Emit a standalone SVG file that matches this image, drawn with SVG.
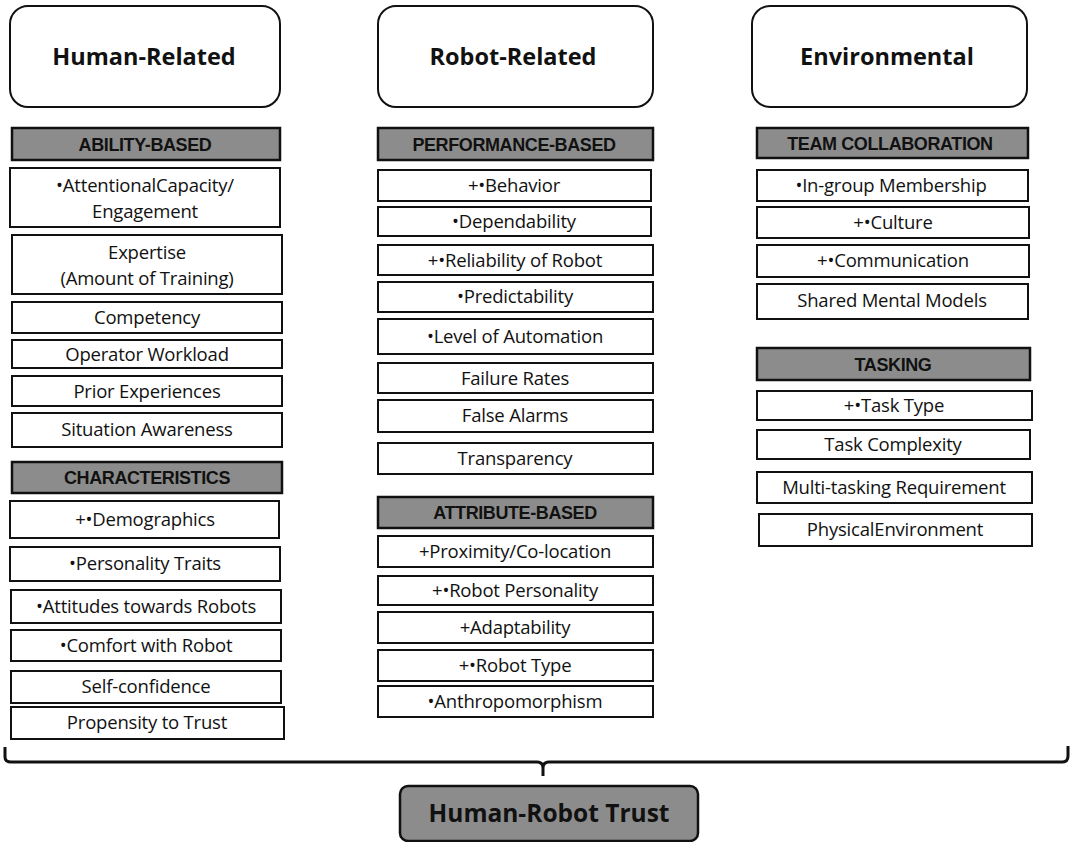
<svg xmlns="http://www.w3.org/2000/svg" width="1071" height="842" viewBox="0 0 1071 842">
<style>
.hdr{fill:#fff;stroke:#111;stroke-width:2}
.bar{fill:#8c8c8c;stroke:#111;stroke-width:2.5}
.box{fill:#fff;stroke:#111;stroke-width:2}
.ht{font-family:"Open Sans","Noto Sans",sans-serif;font-weight:bold;font-size:23.5px;fill:#111;text-anchor:middle}
.bt{font-family:"Liberation Sans",Arial,sans-serif;font-weight:bold;font-size:18px;fill:#111;text-anchor:middle;letter-spacing:-0.4px}
.it{font-family:"Open Sans","Noto Sans",sans-serif;font-size:18.5px;fill:#111;text-anchor:middle;letter-spacing:-0.2px}
.trust{fill:#8c8c8c;stroke:#111;stroke-width:2.5}
.tt{font-family:"Open Sans","Noto Sans",sans-serif;font-weight:bold;font-size:24.5px;fill:#111;text-anchor:middle}
</style>
<rect width="1071" height="842" fill="#fff"/>

<g id="human-related"><rect class="hdr" x="10" y="6" width="270" height="101" rx="18"/><text class="ht" x="144" y="65">Human-Related</text></g>
<g id="robot-related"><rect class="hdr" x="378" y="6" width="275" height="101" rx="18"/><text class="ht" x="513" y="65">Robot-Related</text></g>
<g id="environmental"><rect class="hdr" x="752" y="6" width="275" height="101" rx="18"/><text class="ht" x="887" y="65">Environmental</text></g>

<!-- Column 1 -->
<g id="ability-based"><rect class="bar" x="12" y="128" width="268" height="32"/><text class="bt" x="145" y="151">ABILITY-BASED</text></g>
<g id="attentional"><rect class="box" x="10" y="168" width="270" height="59"/><text class="it" x="145" y="192">•AttentionalCapacity/</text><text class="it" x="145" y="218">Engagement</text></g>
<g id="expertise"><rect class="box" x="12" y="235" width="270" height="59"/><text class="it" x="147" y="259">Expertise</text><text class="it" x="147" y="285">(Amount of Training)</text></g>
<g id="competency"><rect class="box" x="12" y="302" width="270" height="31"/><text class="it" x="147" y="324">Competency</text></g>
<g id="workload"><rect class="box" x="12" y="340" width="270" height="28"/><text class="it" x="147" y="361">Operator Workload</text></g>
<g id="prior"><rect class="box" x="12" y="376" width="270" height="30"/><text class="it" x="147" y="398">Prior Experiences</text></g>
<g id="situation"><rect class="box" x="12" y="413" width="270" height="34"/><text class="it" x="147" y="436">Situation Awareness</text></g>
<g id="characteristics"><rect class="bar" x="12" y="462" width="270" height="31"/><text class="bt" x="147" y="484">CHARACTERISTICS</text></g>
<g id="demographics"><rect class="box" x="10" y="501" width="269" height="37"/><text class="it" x="145" y="526">+•Demographics</text></g>
<g id="personality"><rect class="box" x="10" y="547" width="270" height="34"/><text class="it" x="145" y="570">•Personality Traits</text></g>
<g id="attitudes"><rect class="box" x="11" y="590" width="270" height="33"/><text class="it" x="146" y="613">•Attitudes towards Robots</text></g>
<g id="comfort"><rect class="box" x="11" y="630" width="270" height="31"/><text class="it" x="146" y="652">•Comfort with Robot</text></g>
<g id="selfconf"><rect class="box" x="11" y="671" width="270" height="32"/><text class="it" x="146" y="693">Self-confidence</text></g>
<g id="propensity"><rect class="box" x="11" y="707" width="273" height="32"/><text class="it" x="147" y="729">Propensity to Trust</text></g>

<!-- Column 2 -->
<g id="performance-based"><rect class="bar" x="378" y="128" width="275" height="32"/><text class="bt" x="514" y="151">PERFORMANCE-BASED</text></g>
<g id="behavior"><rect class="box" x="378" y="170" width="273" height="31"/><text class="it" x="514" y="192">+•Behavior</text></g>
<g id="dependability"><rect class="box" x="378" y="207" width="273" height="29"/><text class="it" x="514" y="228">•Dependability</text></g>
<g id="reliability"><rect class="box" x="378" y="245" width="275" height="30"/><text class="it" x="515" y="267">+•Reliability of Robot</text></g>
<g id="predictability"><rect class="box" x="378" y="282" width="275" height="30"/><text class="it" x="515" y="303">•Predictability</text></g>
<g id="automation"><rect class="box" x="378" y="319" width="275" height="35"/><text class="it" x="515" y="343">•Level of Automation</text></g>
<g id="failure"><rect class="box" x="378" y="363" width="275" height="30"/><text class="it" x="515" y="385">Failure Rates</text></g>
<g id="false-alarms"><rect class="box" x="378" y="400" width="275" height="32"/><text class="it" x="515" y="422">False Alarms</text></g>
<g id="transparency"><rect class="box" x="378" y="443" width="275" height="31"/><text class="it" x="515" y="465">Transparency</text></g>
<g id="attribute-based"><rect class="bar" x="378" y="497" width="275" height="31"/><text class="bt" x="515" y="519">ATTRIBUTE-BASED</text></g>
<g id="proximity"><rect class="box" x="378" y="536" width="275" height="31"/><text class="it" x="515" y="558">+Proximity/Co-location</text></g>
<g id="robot-personality"><rect class="box" x="378" y="576" width="275" height="29"/><text class="it" x="515" y="597">+•Robot Personality</text></g>
<g id="adaptability"><rect class="box" x="378" y="612" width="275" height="31"/><text class="it" x="515" y="634">+Adaptability</text></g>
<g id="robot-type"><rect class="box" x="378" y="650" width="275" height="31"/><text class="it" x="515" y="672">+•Robot Type</text></g>
<g id="anthropomorphism"><rect class="box" x="378" y="686" width="275" height="31"/><text class="it" x="515" y="708">•Anthropomorphism</text></g>

<!-- Column 3 -->
<g id="team-collaboration"><rect class="bar" x="757" y="128" width="271" height="30"/><text class="bt" x="890" y="150">TEAM COLLABORATION</text></g>
<g id="ingroup"><rect class="box" x="757" y="170" width="271" height="31"/><text class="it" x="891" y="192">•In-group Membership</text></g>
<g id="culture"><rect class="box" x="757" y="207" width="272" height="31"/><text class="it" x="893" y="229">+•Culture</text></g>
<g id="communication"><rect class="box" x="757" y="245" width="272" height="32"/><text class="it" x="893" y="267">+•Communication</text></g>
<g id="shared"><rect class="box" x="757" y="284" width="271" height="35"/><text class="it" x="892" y="307">Shared Mental Models</text></g>
<g id="tasking"><rect class="bar" x="757" y="348" width="273" height="32"/><text class="bt" x="893" y="371">TASKING</text></g>
<g id="task-type"><rect class="box" x="757" y="391" width="275" height="29"/><text class="it" x="894" y="412">+•Task Type</text></g>
<g id="task-complexity"><rect class="box" x="757" y="430" width="273" height="29"/><text class="it" x="893" y="451">Task Complexity</text></g>
<g id="multitasking"><rect class="box" x="757" y="472" width="275" height="31"/><text class="it" x="894" y="494">Multi-tasking Requirement</text></g>
<g id="physical"><rect class="box" x="759" y="514" width="273" height="32"/><text class="it" x="895" y="536">PhysicalEnvironment</text></g>

<g id="connectors" fill="none" stroke="#111" stroke-width="3">
<path d="M5,747 L5,757 Q5,762 11,762 L537,762 Q543,762 543,768 L543,776 M543,768 Q543,762 549,762 L1062,762 Q1068,762 1068,756 L1068,746"/>
</g>

<g id="human-robot-trust"><rect class="trust" x="400" y="786" width="298" height="55" rx="8"/><text class="tt" x="549" y="822">Human-Robot Trust</text></g>
</svg>
